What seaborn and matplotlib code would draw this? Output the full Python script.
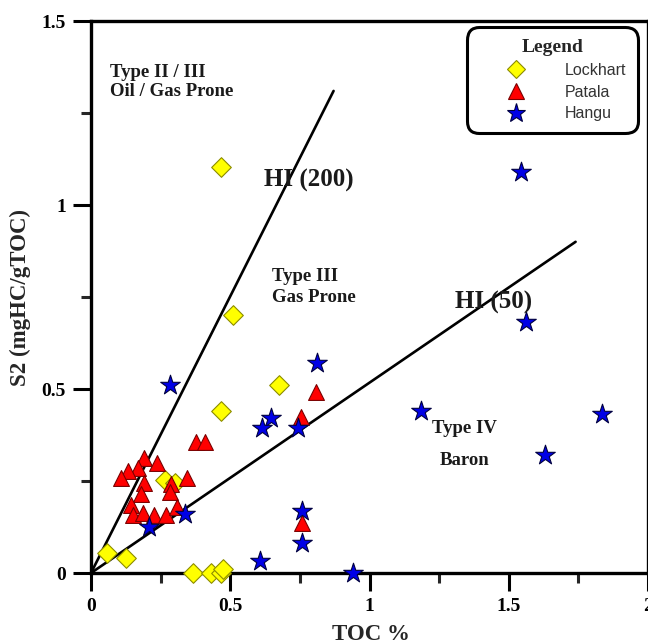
import numpy as np
import pandas as pd
import matplotlib
matplotlib.use("Agg")
import matplotlib.pyplot as plt
from matplotlib.lines import Line2D
from matplotlib.ticker import MultipleLocator
import seaborn as sns

# ---------------- data ----------------
lockhart_toc = [0.468, 0.511, 0.468, 0.675, 0.057, 0.125, 0.264, 0.300, 0.368, 0.432, 0.468, 0.475]
lockhart_s2 = [1.104, 0.700, 0.441, 0.512, 0.054, 0.041, 0.253, 0.245, 0.0, 0.0, 0.0, 0.012]

patala_toc = [0.190, 0.169, 0.238, 0.133, 0.109, 0.190, 0.181, 0.288, 0.282, 0.345,
              0.145, 0.151, 0.187, 0.226, 0.270, 0.309, 0.378, 0.411, 0.807, 0.754, 0.757]
patala_s2 = [0.312, 0.285, 0.298, 0.276, 0.257, 0.244, 0.214, 0.241, 0.221, 0.257,
             0.185, 0.158, 0.162, 0.158, 0.158, 0.180, 0.357, 0.357, 0.493, 0.425, 0.136]

hangu_toc = [1.543, 1.561, 0.811, 0.282, 0.646, 0.614, 0.743, 1.186, 1.836, 1.629,
             0.757, 0.757, 0.607, 0.939, 0.339, 0.207]
hangu_s2 = [1.090, 0.681, 0.572, 0.512, 0.422, 0.395, 0.395, 0.439, 0.431, 0.322,
            0.169, 0.082, 0.033, 0.0, 0.161, 0.125]

hi200_x = [0.0, 0.871]
hi200_y = [0.0, 1.31]
hi50_x = [0.0, 1.74]
hi50_y = [0.0, 0.90]

x_ticks = [0, 0.5, 1, 1.5, 2]
x_tick_labels = ["0", "0.5", "1", "1.5", "2"]
y_ticks = [0, 0.5, 1, 1.5]
y_tick_labels = ["0", "0.5", "1", "1.5"]

# ---------------- frame ----------------
df = pd.concat([
    pd.DataFrame({"TOC": lockhart_toc, "S2": lockhart_s2, "Formation": "Lockhart"}),
    pd.DataFrame({"TOC": patala_toc, "S2": patala_s2, "Formation": "Patala"}),
    pd.DataFrame({"TOC": hangu_toc, "S2": hangu_s2, "Formation": "Hangu"}),
], ignore_index=True)

sns.set_theme(style="white")
plt.rcParams["font.family"] = ["Liberation Serif", "DejaVu Serif"]

fig = plt.figure(figsize=(6.48, 6.43), dpi=100)
ax = fig.add_axes([91 / 648, 70 / 643, 557 / 648, 552 / 643])

ax.plot(hi200_x, hi200_y, color="black", lw=1.9, zorder=1)
ax.plot(hi50_x, hi50_y, color="black", lw=1.9, zorder=1)

styles = {
    "Lockhart": dict(marker="D", s=100, color="#FFFF00", edgecolor="#8C8C00"),
    "Patala": dict(marker="^", s=130, color="#FF0000", edgecolor="#7A0000"),
    "Hangu": dict(marker="*", s=220, color="#0000E6", edgecolor="#000040"),
}
for name, st in styles.items():
    sub = df[df["Formation"] == name]
    sns.scatterplot(data=sub, x="TOC", y="S2", ax=ax, marker=st["marker"], s=st["s"],
                    color=st["color"], edgecolor=st["edgecolor"], linewidth=0.8,
                    zorder=3, legend=False, clip_on=False)

ax.set_xlim(0, 2)
ax.set_ylim(0, 1.5)
ax.set_xticks(x_ticks)
ax.set_xticklabels(x_tick_labels)
ax.set_yticks(y_ticks)
ax.set_yticklabels(y_tick_labels)
ax.xaxis.set_minor_locator(MultipleLocator(0.25))
ax.yaxis.set_minor_locator(MultipleLocator(0.25))
ax.tick_params(which="major", direction="out", length=13, width=2.2,
               bottom=True, left=True, labelsize=14, pad=5, colors="black")
ax.tick_params(which="minor", direction="out", length=7, width=2.2, bottom=True, left=True)
for lab in ax.get_xticklabels() + ax.get_yticklabels():
    lab.set_fontweight("bold")

for sp in ax.spines.values():
    sp.set_visible(True)
    sp.set_color("black")
    sp.set_linewidth(2.4)

ax.set_xlabel("TOC %", fontsize=16.5, fontweight="bold")
ax.set_ylabel("S2 (mgHC/gTOC)", fontsize=16.5, fontweight="bold")
ax.xaxis.set_label_coords(0.503, -0.092)
ax.yaxis.set_label_coords(-0.108, 0.5)

txt = dict(fontweight="bold", color="#1a1a1a", family=["Liberation Serif"])
ax.text(0.07, 1.36, "Type II / III", fontsize=13.5, va="center", **txt)
ax.text(0.07, 1.308, "Oil / Gas Prone", fontsize=13.5, va="center", **txt)
ax.text(0.62, 1.068, "HI (200)", fontsize=18, va="center", **txt)
ax.text(0.65, 0.805, "Type III", fontsize=13.5, va="center", **txt)
ax.text(0.65, 0.750, "Gas Prone", fontsize=13.5, va="center", **txt)
ax.text(1.307, 0.735, "HI (50)", fontsize=18, va="center", **txt)
ax.text(1.225, 0.393, "Type IV", fontsize=13.5, va="center", **txt)
ax.text(1.253, 0.307, "Baron", fontsize=13.5, va="center", **txt)

handles = [
    Line2D([], [], ls="none", marker="D", ms=9.5, mfc="#FFFF00", mec="#8C8C00", mew=0.8),
    Line2D([], [], ls="none", marker="^", ms=11, mfc="#FF0000", mec="#7A0000", mew=0.8),
    Line2D([], [], ls="none", marker="*", ms=14, mfc="#0000E6", mec="#000040", mew=0.8),
]
leg = ax.legend(handles, ["Lockhart", "Patala", "Hangu"], title="Legend",
                loc="upper right", bbox_to_anchor=(0.994, 1.0), frameon=True,
                fancybox=True, prop={"family": "Liberation Sans", "size": 11.5},
                title_fontproperties={"family": "Liberation Serif", "weight": "bold", "size": 14},
                handletextpad=0.7, borderpad=0.75, labelspacing=0.42, handlelength=4.7,
                borderaxespad=0.4)
leg.get_frame().set_edgecolor("black")
leg.get_frame().set_linewidth(2.2)
leg.get_frame().set_boxstyle("round,pad=0,rounding_size=0.8")
leg.get_frame().set_alpha(1)
for t in leg.get_texts():
    t.set_color("#333333")
leg._legend_box.align = "center"
leg.set_zorder(5)

fig.savefig("out.png", dpi=100)
